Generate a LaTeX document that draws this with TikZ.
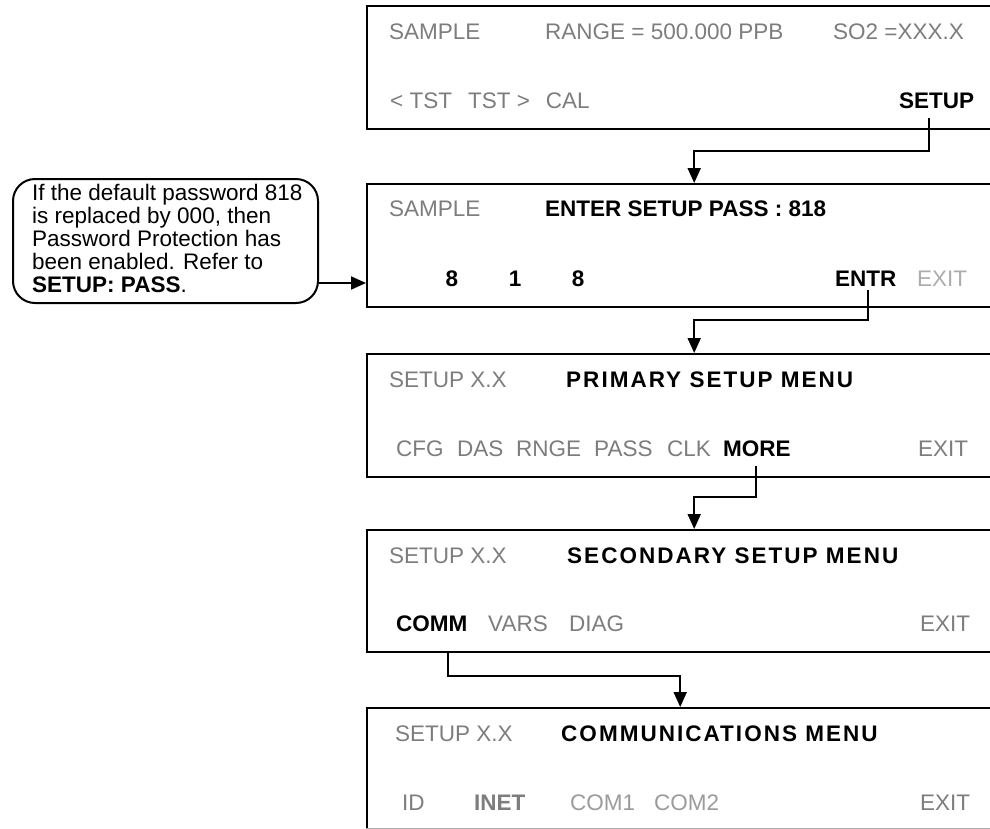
\documentclass[tikz,border=0pt]{standalone}
\usepackage{fontspec}
\setmainfont{Liberation Sans}
\newfontfamily\titlefont[LetterSpace=9]{Liberation Sans}
\usetikzlibrary{arrows.meta}
\definecolor{keygray}{RGB}{125,125,125}
\definecolor{lightkey}{RGB}{172,172,172}
\definecolor{comgray}{RGB}{155,155,155}
\begin{document}
\begin{tikzpicture}[x=1pt,y=-1pt,
  lbl/.style={anchor=base west, inner sep=0pt, font=\fontsize{22.5}{27}\selectfont},
  gk/.style={lbl, text=keygray},
  bk/.style={lbl, font=\fontsize{22.5}{27}\selectfont\bfseries},
  ttl/.style={lbl, font=\titlefont\fontsize{22.5}{27}\selectfont\bfseries},
  panel/.style={draw=black, line width=2.4pt, anchor=north west, minimum width=654pt, inner sep=0pt},
  conn/.style={line width=2pt, -{Triangle[length=15pt,width=13pt]}}]
\useasboundingbox (0,0) rectangle (990,828);
\clip (0,0) rectangle (990,828);
\fill[white] (0,0) rectangle (990,828);

% panels
\node[panel, minimum height=123pt] (b1) at (366,5) {};
\node[panel, minimum height=123pt] (b2) at (366,183) {};
\node[panel, minimum height=123pt] (b3) at (366,353) {};
\node[panel, minimum height=122pt] (b4) at (366,529) {};
\node[panel, minimum height=123pt] (b5) at (366,707) {};
\fill[white] ([yshift=1.2pt]b5.south west) rectangle ([yshift=-3pt]b5.south east);
\draw[lightkey, line width=1pt] ([yshift=4pt]b5.south west) -- ([yshift=4pt]b5.south east);

% callout
\node[draw, line width=2pt, rounded corners=22pt, anchor=north west,
      minimum width=305pt, minimum height=124pt, inner sep=0pt] (callout) at (12,178) {};
\node[lbl, align=left, anchor=north west, font=\fontsize{22.5}{23}\selectfont] (ctext) at (32,184)
  {If the default password 818\\ is replaced by 000, then\\ Password Protection has\\ been enabled. Refer to\\ \textbf{SETUP: PASS}.};

% box 1
\node[gk] (t1a) at (389,39) {SAMPLE};
\node[gk] (t1b) at (545,39) {RANGE = 500.000 PPB};
\node[gk] (t1c) at (833,39) {SO2 =XXX.X};
\node[gk] (k1a) at (390,108) {< TST\hspace{16pt}TST >\hspace{16pt}CAL};
\node[bk] (setupkey) at (899,108) {SETUP};

% box 2
\node[gk] (t2a) at (389,216) {SAMPLE};
\node[bk] (t2b) at (545,216) {ENTER SETUP PASS : 818};
\node[bk, anchor=base] (d1) at (452,286) {8};
\node[bk, anchor=base] (d2) at (515,286) {1};
\node[bk, anchor=base] (d3) at (578,286) {8};
\node[bk] (entr) at (835,286) {ENTR};
\node[lbl, text=lightkey] (exit2) at (917,286) {EXIT};

% box 3
\node[gk] (t3a) at (389,387) {SETUP X.X};
\node[ttl] (t3b) at (566,387) {PRIMARY SETUP MENU};
\node[gk] (cfg) at (396,456) {CFG};
\node[gk] (das) at (457,456) {DAS};
\node[gk] (rnge) at (516,456) {RNGE};
\node[gk] (pass) at (594,456) {PASS};
\node[gk] (clk) at (667,456) {CLK};
\node[bk] (more) at (723,456) {MORE};
\node[gk] (exit3) at (918,456) {EXIT};

% box 4
\node[gk] (t4a) at (389,563) {SETUP X.X};
\node[ttl] (t4b) at (567,563) {SECONDARY SETUP MENU};
\node[bk] (comm) at (396,631) {COMM};
\node[gk] (vars) at (488,631) {VARS};
\node[gk] (diag) at (569,631) {DIAG};
\node[gk] (exit4) at (920,631) {EXIT};

% box 5
\node[gk] (t5a) at (395,741) {SETUP X.X};
\node[ttl] (t5b) at (561,741) {COMMUNICATIONS MENU};
\node[gk] (id) at (402,810) {ID};
\node[lbl, text=keygray, font=\fontsize{22.5}{27}\selectfont\bfseries] (inet) at (474,810) {INET};
\node[lbl, text=comgray] (com1) at (570,810) {COM1};
\node[lbl, text=comgray] (com2) at (654,810) {COM2};
\node[gk] (exit5) at (920,810) {EXIT};

% connectors
\coordinate (s1) at (929,118);
\coordinate (s2) at (868,290);
\coordinate (s3) at (756,466);
\coordinate (s4) at (448,651);
\draw[conn] (s1) -- ++(0,33) -| (b2.north);
\draw[conn] (s2) -- ++(0,30) -| (b3.north);
\draw[conn] (s3) -- ++(0,31) -| (b4.north);
\draw[conn] (s4) -- ++(0,25) -| ([xshift=-14pt]b5.north);
\draw[conn] (callout.east |- 0,283) -- (b2.west |- 0,283);
\end{tikzpicture}
\end{document}
